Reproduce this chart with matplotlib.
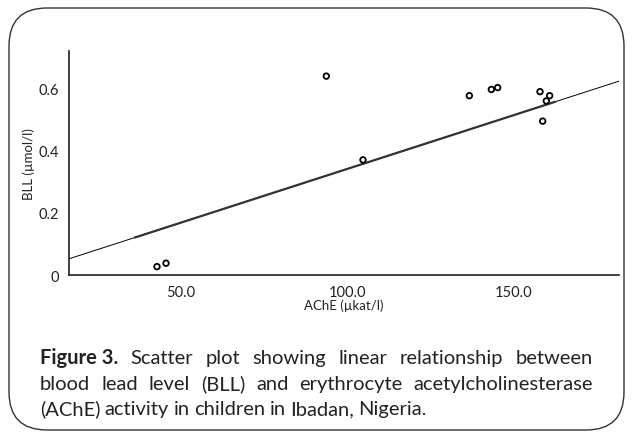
import matplotlib
matplotlib.use("Agg")
import matplotlib.pyplot as plt
import matplotlib.transforms as mtransforms
from matplotlib.patches import FancyBboxPatch

# values
ache = [42.9, 45.6, 93.7, 104.7, 136.6, 143.2, 145.1, 157.8, 158.6, 159.7, 160.7]
bll = [0.027, 0.038, 0.641, 0.371, 0.578, 0.598, 0.604, 0.591, 0.496, 0.561, 0.578]
fit_intercept = -0.005
fit_slope = 0.00347
pred_range = [36.0, 162.5]

x_ticks = [50, 100, 150]
x_labels = ["50.0", "100.0", "150.0"]
y_ticks = [0, 0.2, 0.4, 0.6]
y_labels = ["0", "0.2", "0.4", "0.6"]

caption = [
    ("Scatter plot showing linear relationship between", True),
    ("blood lead level (BLL) and erythrocyte acetylcholinesterase", True),
    ("(AChE) activity in children in Ibadan, Nigeria.", False),
]

W, H = 632, 439
FONT = ["Lato", "DejaVu Sans"]
plt.rcParams["font.family"] = FONT

fig = plt.figure(figsize=(W / 100, H / 100), dpi=100)
# pixel coordinates, origin at top-left
px = mtransforms.Affine2D().scale(1 / W, -1 / H).translate(0, 1) + fig.transFigure

box = FancyBboxPatch((9, 9), 615, 422, boxstyle="round,pad=0,rounding_size=38",
                     transform=px, facecolor="none", edgecolor="#333333",
                     linewidth=1.0, zorder=0)
fig.patches.append(box)

left, right, top, bottom = 69, 619, 52, 276
ax = fig.add_axes([left / W, 1 - bottom / H, (right - left) / W, (bottom - top) / H])
ax.set_xlim(16.5, 181.5)
ax.set_ylim(0, 0.722)
ax.patch.set_alpha(0)

xs = [16.5, 181.5]
ax.plot(xs, [fit_intercept + fit_slope * v for v in xs], color="black", lw=0.7)
ax.plot(pred_range, [fit_intercept + fit_slope * v for v in pred_range],
        color="#333333", lw=1.6, solid_capstyle="butt")
ax.scatter(ache, bll, s=16, facecolors="none", edgecolors="black", linewidths=1.3, zorder=3)

for s in ["top", "right"]:
    ax.spines[s].set_visible(False)
for s in ["left", "bottom"]:
    ax.spines[s].set_linewidth(1.2)
    ax.spines[s].set_color("#222222")

ax.set_xticks(x_ticks)
ax.set_xticklabels(x_labels)
ax.set_yticks(y_ticks)
ax.set_yticklabels(y_labels)
ax.tick_params(length=0, labelsize=10.5, colors="#222222", pad=7)
ax.set_yticks([0], minor=True)
ax.tick_params(axis="y", which="minor", length=7, width=1.2, color="#222222")

ax.set_xlabel("AChE (µkat/l)", fontsize=9.5, color="#222222", labelpad=0)
ax.set_ylabel("BLL (µmol/l)", fontsize=9.5, color="#222222", labelpad=3)

# caption, justified by hand
fig.canvas.draw()
renderer = fig.canvas.get_renderer()
cap_left, cap_right = 40, 593
baselines = [364, 390, 415]
fs = 14.5


def width_of(t):
    return t.get_window_extent(renderer).width


for i, (line, justify) in enumerate(caption):
    words = line.split(" ")
    items = []
    if i == 0:
        items.append(("Figure 3.", "bold"))
    items += [(w, "normal") for w in words]
    texts = [fig.text(0, 0, w, fontsize=fs, fontweight=fw, color="#222222",
                      transform=px, va="baseline", ha="left") for w, fw in items]
    widths = [width_of(t) for t in texts]
    if justify:
        gap = (cap_right - cap_left - sum(widths)) / (len(texts) - 1)
    else:
        gap = fs * 0.3
    x = cap_left
    for t, w in zip(texts, widths):
        t.set_position((x, baselines[i]))
        x += w + gap

fig.savefig("out.png", dpi=100)
